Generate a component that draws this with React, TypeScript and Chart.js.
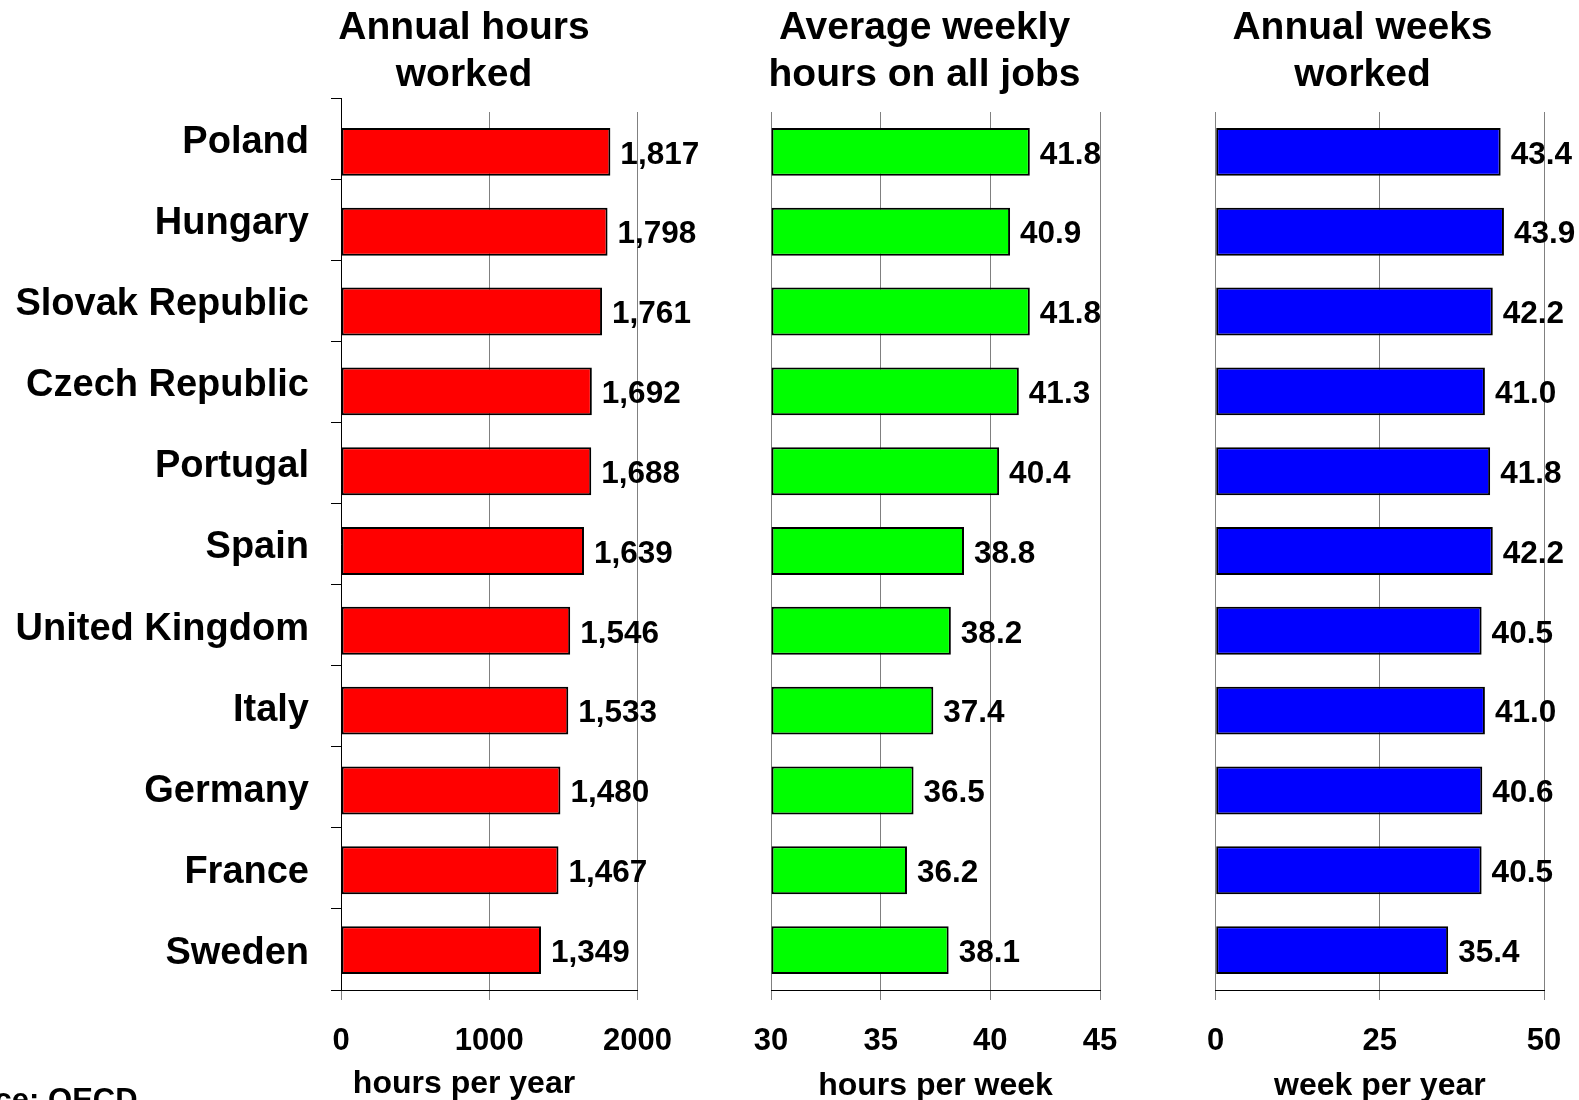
import React, { useEffect, useRef } from "react";
import { Chart, registerables } from "chart.js";

Chart.register(...registerables);

const FONT = "'Liberation Sans', Arial, Helvetica, sans-serif";

// ---------- data ----------
const countries = [
  "Poland",
  "Hungary",
  "Slovak Republic",
  "Czech Republic",
  "Portugal",
  "Spain",
  "United Kingdom",
  "Italy",
  "Germany",
  "France",
  "Sweden",
];
const annualHours = [1817, 1798, 1761, 1692, 1688, 1639, 1546, 1533, 1480, 1467, 1349];
const weeklyHours = [41.8, 40.9, 41.8, 41.3, 40.4, 38.8, 38.2, 37.4, 36.5, 36.2, 38.1];
const annualWeeks = [43.4, 43.9, 42.2, 41.0, 41.8, 42.2, 40.5, 41.0, 40.6, 40.5, 35.4];

const hoursTicks = [0, 1000, 2000];
const weeklyTicks = [30, 35, 40, 45];
const weeksTicks = [0, 25, 50];

const titleHours = ["Annual hours", "worked"];
const titleWeekly = ["Average weekly", "hours on all jobs"];
const titleWeeks = ["Annual weeks", "worked"];

const axisHours = "hours per year";
const axisWeekly = "hours per week";
const axisWeeks = "week per year";

const sourceText = "Source: OECD";

const W = 1579;
const H = 1100;

const fmtThousands = (v: number) => v.toLocaleString("en-US");
const fmtOneDecimal = (v: number) => v.toFixed(1);

function valueLabelPlugin(fmt: (v: number) => string) {
  return {
    id: "valueLabels",
    afterDatasetsDraw(chart: any) {
      const ctx = chart.ctx;
      const meta = chart.getDatasetMeta(0);
      const data = chart.data.datasets[0].data as number[];
      ctx.save();
      ctx.font = `bold 31.5px ${FONT}`;
      ctx.fillStyle = "#000";
      ctx.textAlign = "left";
      ctx.textBaseline = "middle";
      meta.data.forEach((el: any, i: number) => {
        ctx.fillText(fmt(data[i]), el.x + 10, el.y + 3);
      });
      ctx.restore();
    },
  };
}

// category label axis spans a slightly taller band than the bars (as in the original)
const labelAxisPlugin = {
  id: "labelAxisTop",
  afterLayout(chart: any) {
    const s = chart.scales.yLab;
    if (!s) return;
    s.top = 98;
    s.height = s.bottom - s.top;
    s.configure();
    s._labelItems = null;
    s._gridLineItems = null;
  },
};

type PanelProps = {
  values: number[];
  color: string;
  title: string[];
  axisTitle: string;
  ticks: number[];
  fmt: (v: number) => string;
  plotLeft: number;
  plotRight: number;
  titleCenter: number;
  padLeft: number;
  showCategories: boolean;
  axisTitleCentered: boolean;
};

function Panel(props: PanelProps) {
  const ref = useRef<HTMLCanvasElement | null>(null);
  useEffect(() => {
    const {
      values,
      color,
      title,
      axisTitle,
      ticks,
      fmt,
      plotLeft,
      plotRight,
      titleCenter,
      padLeft,
      showCategories,
      axisTitleCentered,
    } = props;
    const spanRight = 2 * titleCenter - padLeft;
    const padRight = W - spanRight;
    const leftBox = plotLeft - padLeft;
    const rightBox = spanRight - plotRight;

    const subtitleHeight = 37.4;
    const hiddenBox = (position: string, width: number) => ({
      type: "category",
      position,
      display: true,
      offset: true,
      ticks: { display: false },
      grid: { display: false },
      border: { display: false },
      afterFit: (s: any) => {
        s.width = width;
      },
    });

    const scales: any = {
      x: {
        type: "linear",
        position: "bottom",
        min: ticks[0],
        max: ticks[ticks.length - 1],
        ticks: {
          stepSize: ticks[1] - ticks[0],
          color: "#000",
          font: { family: FONT, size: 31, weight: "bold", lineHeight: 2.684 },
          padding: 0,
          maxRotation: 0,
          autoSkip: false,
          callback: (v: any) => String(v),
        },
        grid: { color: "#808080", lineWidth: 1, tickLength: 10, drawTicks: true, tickColor: "#808080" },
        border: { display: true, color: "#000", width: 1, z: 1 },
        title: {
          display: !axisTitleCentered,
          text: axisTitle,
          color: "#000",
          font: { family: FONT, size: 32, weight: "bold", lineHeight: 0.85 },
          padding: { top: 0, bottom: 0 },
        },
        afterFit: (s: any) => {
          s.height = axisTitleCentered ? 110 - subtitleHeight : 110;
        },
      },
    };
    if (showCategories) {
      scales.y = { display: false, offset: true };
      scales.yLab = {
        type: "category",
        position: "left",
        offset: true,
        grid: {
          display: true,
          offset: true,
          drawOnChartArea: false,
          drawTicks: true,
          tickLength: 10,
          color: "#000",
          tickColor: "#000",
          lineWidth: 1,
        },
        border: { display: true, color: "#000", width: 1, z: 1 },
        ticks: {
          color: "#000",
          font: { family: FONT, size: 38, weight: "bold" },
          padding: 22,
          labelOffset: 4,
          autoSkip: false,
        },
        afterFit: (s: any) => {
          s.width = leftBox;
        },
      };
    } else {
      scales.y = hiddenBox("left", leftBox);
    }
    if (rightBox > 0.5) {
      scales.yPad = hiddenBox("right", rightBox);
    }

    const cfg: any = {
      type: "bar",
      data: {
        labels: countries,
        datasets: [
          {
            data: values,
            backgroundColor: color,
            borderColor: "#000",
            borderWidth: 2,
            borderSkipped: false,
            barPercentage: 0.6,
            categoryPercentage: 1,
            base: ticks[0],
            xAxisID: "x",
            yAxisID: "y",
          },
        ],
      },
      options: {
        indexAxis: "y",
        responsive: false,
        maintainAspectRatio: false,
        animation: false,
        devicePixelRatio: 1,
        events: [],
        layout: { autoPadding: false, padding: { left: padLeft, right: padRight, top: 0, bottom: 0 } },
        plugins: {
          legend: { display: false },
          tooltip: { enabled: false },
          title: {
            display: true,
            text: title,
            color: "#000",
            font: { family: FONT, size: 39, weight: "bold", lineHeight: 47 / 39 },
            padding: { top: 5, bottom: 13 },
          },
          subtitle: {
            display: axisTitleCentered,
            position: "bottom",
            text: axisTitle,
            color: "#000",
            font: { family: FONT, size: 32, weight: "bold", lineHeight: 1 },
            padding: { top: subtitleHeight - 32, bottom: 0 },
          },
        },
        scales,
      },
      plugins: showCategories ? [valueLabelPlugin(fmt), labelAxisPlugin] : [valueLabelPlugin(fmt)],
    };
    const chart = new Chart(ref.current as HTMLCanvasElement, cfg);
    return () => chart.destroy();
  }, []);
  return (
    <canvas
      ref={ref}
      width={W}
      height={H}
      style={{ position: "absolute", left: 0, top: 0, width: W, height: H, display: "block" }}
    />
  );
}

export default function App() {
  return (
    <div
      style={{
        position: "absolute",
        left: 0,
        top: 0,
        width: W,
        height: H,
        overflow: "hidden",
        background: "#fff",
      }}
    >
      <Panel
        values={annualHours}
        color="#FF0000"
        title={titleHours}
        axisTitle={axisHours}
        ticks={hoursTicks}
        fmt={fmtThousands}
        plotLeft={341}
        plotRight={637.5}
        titleCenter={464}
        padLeft={0}
        showCategories={true}
        axisTitleCentered={true}
      />
      <Panel
        values={weeklyHours}
        color="#00FF00"
        title={titleWeekly}
        axisTitle={axisWeekly}
        ticks={weeklyTicks}
        fmt={fmtOneDecimal}
        plotLeft={771}
        plotRight={1100}
        titleCenter={924.5}
        padLeft={749}
        showCategories={false}
        axisTitleCentered={false}
      />
      <Panel
        values={annualWeeks}
        color="#0000FF"
        title={titleWeeks}
        axisTitle={axisWeeks}
        ticks={weeksTicks}
        fmt={fmtOneDecimal}
        plotLeft={1215.7}
        plotRight={1544}
        titleCenter={1362.5}
        padLeft={1181}
        showCategories={false}
        axisTitleCentered={false}
      />
      <div
        style={{
          position: "absolute",
          left: -76,
          top: 1082,
          font: `bold 31px ${FONT}`,
          color: "#000",
          whiteSpace: "nowrap",
        }}
      >
        {sourceText}
      </div>
    </div>
  );
}
